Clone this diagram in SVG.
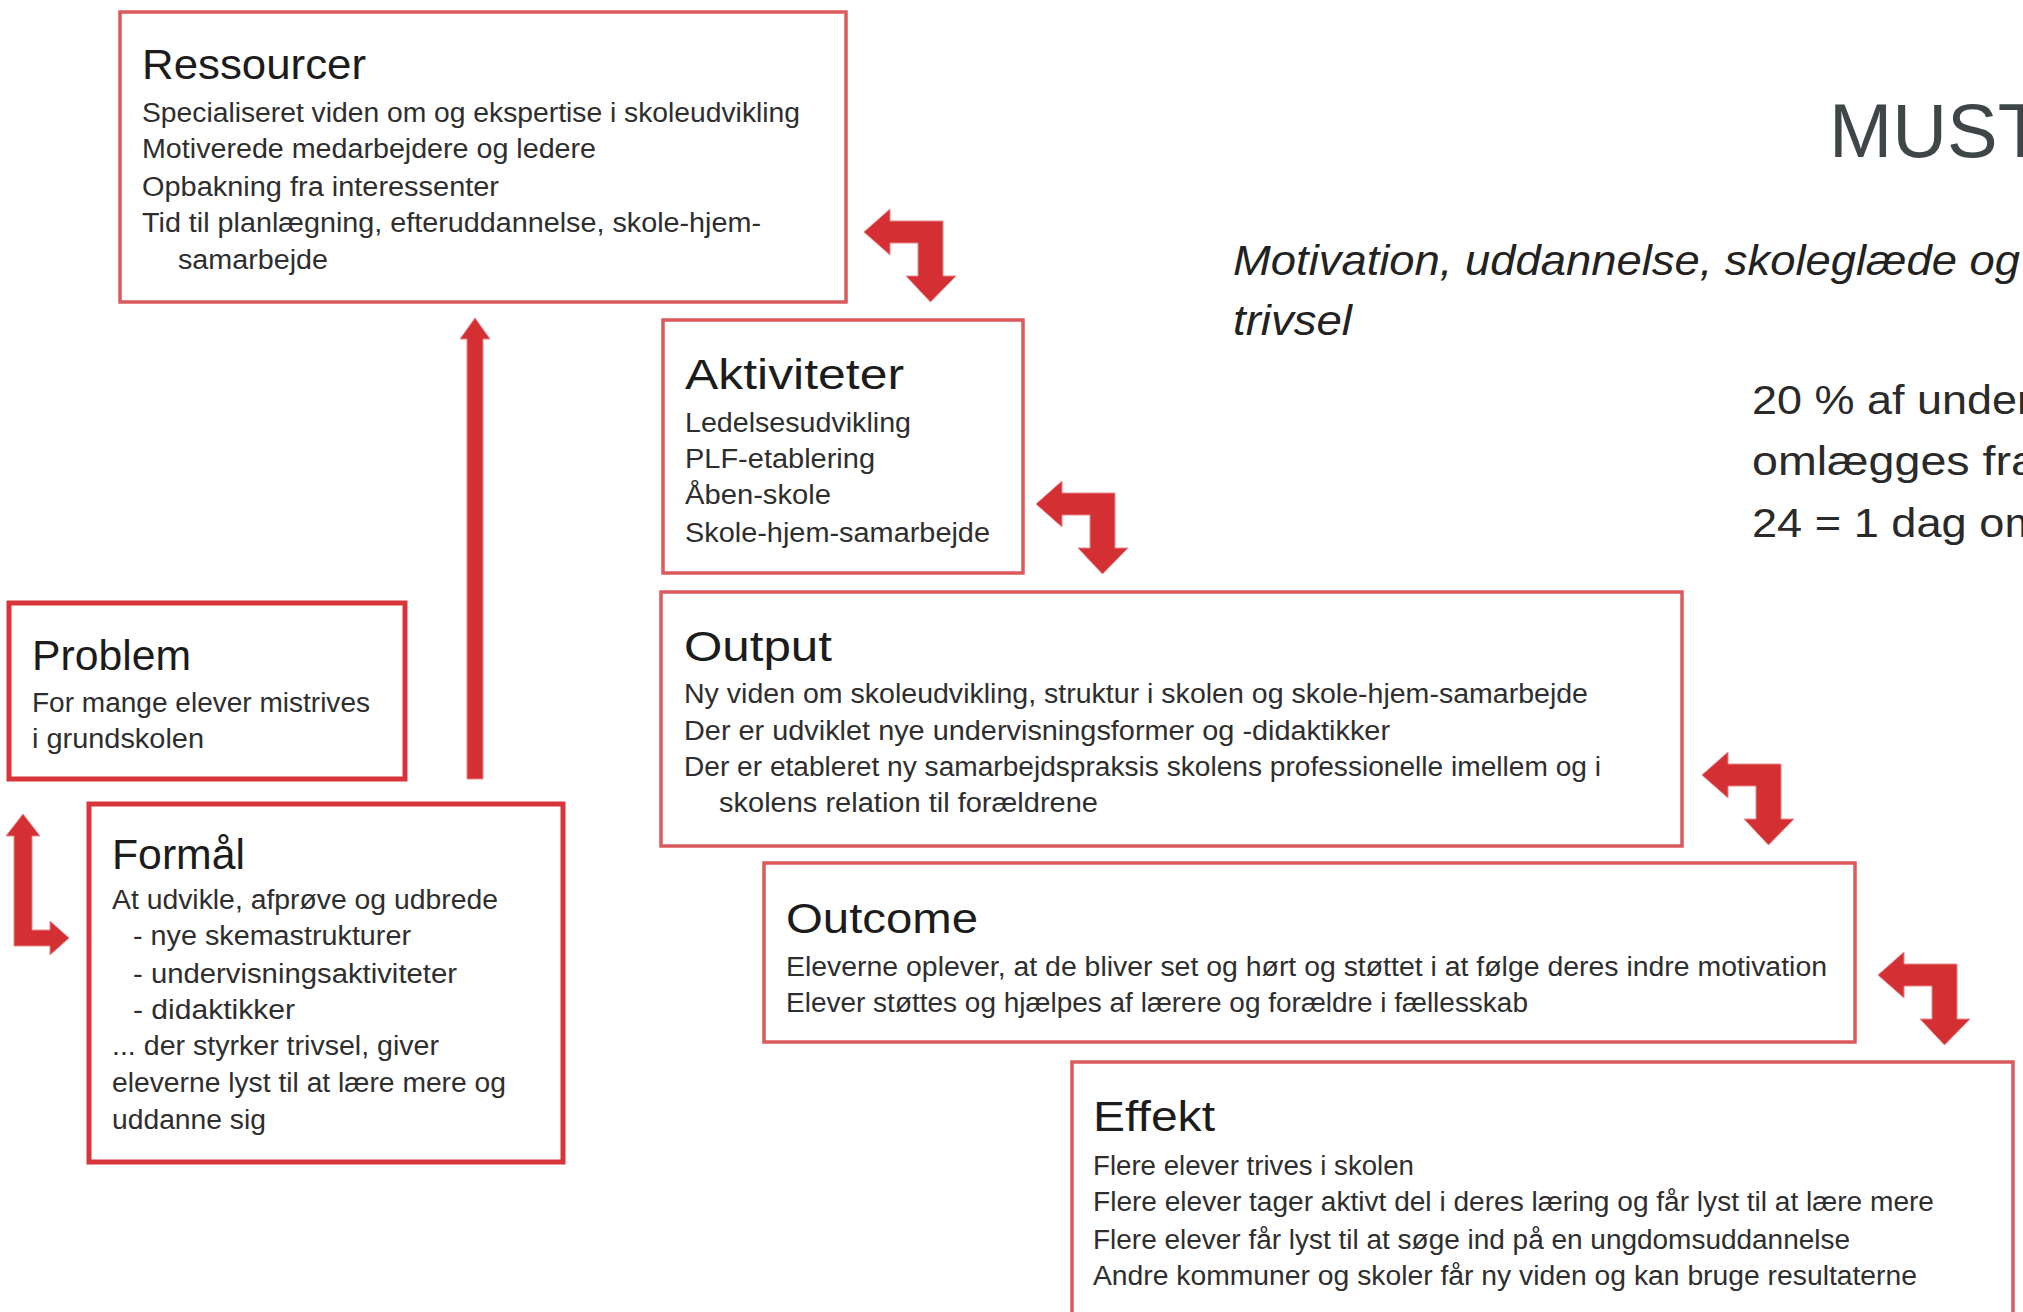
<svg xmlns="http://www.w3.org/2000/svg" width="2023" height="1312" viewBox="0 0 2023 1312">
<style>
.box{fill:#ffffff;stroke:#dc5a5e;stroke-width:3.5}
.boxb{fill:#ffffff;stroke:#d8353a;stroke-width:5}
.t{font-family:"Liberation Sans",Arial,sans-serif;font-size:42px;fill:#1c1c1c}
.b{font-family:"Liberation Sans",Arial,sans-serif;font-size:27px;fill:#2e2e2e}
.side{font-family:"Liberation Sans",Arial,sans-serif;font-size:40px;fill:#2a2a2a}
.it{font-family:"Liberation Sans",Arial,sans-serif;font-size:42px;font-style:italic;fill:#222222}
.big{font-family:"Liberation Sans",Arial,sans-serif;font-size:76px;fill:#3f4648}
.arr{fill:#d42f33;stroke:#e7888a;stroke-width:1}
</style>
<defs>
<path id="bent" d="M0 0 L0 55 L13 55 L-12.5 81 L-37 55 L-25 55 L-25 22 L-53 22 L-53 34 L-79 11 L-53 -12 L-53 0 Z"/>
</defs>
<rect width="2023" height="1312" fill="#ffffff"/>

<g id="title">
<text class="big" x="1829" y="157" textLength="215" lengthAdjust="spacingAndGlyphs">MUST</text>
<text class="it" x="1233" y="275" textLength="787" lengthAdjust="spacingAndGlyphs">Motivation, uddannelse, skoleglæde og</text>
<text class="it" x="1233" y="335" textLength="119" lengthAdjust="spacingAndGlyphs">trivsel</text>
</g>
<g id="note">
<text class="side" x="1752" y="414" textLength="280" lengthAdjust="spacingAndGlyphs">20 % af under</text>
<text class="side" x="1752" y="475" textLength="285" lengthAdjust="spacingAndGlyphs">omlægges fra</text>
<text class="side" x="1752" y="537" textLength="290" lengthAdjust="spacingAndGlyphs">24 = 1 dag om</text>
</g>

<g id="ressourcer">
<rect class="box" x="120" y="12" width="726" height="290"/>
<text class="t" x="142" y="79" textLength="224" lengthAdjust="spacingAndGlyphs">Ressourcer</text>
<text class="b" x="142" y="122" textLength="658" lengthAdjust="spacingAndGlyphs">Specialiseret viden om og ekspertise i skoleudvikling</text>
<text class="b" x="142" y="158" textLength="454" lengthAdjust="spacingAndGlyphs">Motiverede medarbejdere og ledere</text>
<text class="b" x="142" y="196" textLength="357" lengthAdjust="spacingAndGlyphs">Opbakning fra interessenter</text>
<text class="b" x="142" y="232" textLength="619" lengthAdjust="spacingAndGlyphs">Tid til planlægning, efteruddannelse, skole-hjem-</text>
<text class="b" x="178" y="269" textLength="150" lengthAdjust="spacingAndGlyphs">samarbejde</text>
</g>

<g id="aktiviteter">
<rect class="box" x="663" y="320" width="360" height="253"/>
<text class="t" x="685" y="389" textLength="219" lengthAdjust="spacingAndGlyphs">Aktiviteter</text>
<text class="b" x="685" y="432" textLength="226" lengthAdjust="spacingAndGlyphs">Ledelsesudvikling</text>
<text class="b" x="685" y="468" textLength="190" lengthAdjust="spacingAndGlyphs">PLF-etablering</text>
<text class="b" x="685" y="504" textLength="146" lengthAdjust="spacingAndGlyphs">Åben-skole</text>
<text class="b" x="685" y="542" textLength="305" lengthAdjust="spacingAndGlyphs">Skole-hjem-samarbejde</text>
</g>

<g id="output">
<rect class="box" x="661" y="592" width="1021" height="254"/>
<text class="t" x="684" y="661" textLength="148" lengthAdjust="spacingAndGlyphs">Output</text>
<text class="b" x="684" y="703" textLength="904" lengthAdjust="spacingAndGlyphs">Ny viden om skoleudvikling, struktur i skolen og skole-hjem-samarbejde</text>
<text class="b" x="684" y="740" textLength="706" lengthAdjust="spacingAndGlyphs">Der er udviklet nye undervisningsformer og -didaktikker</text>
<text class="b" x="684" y="776" textLength="917" lengthAdjust="spacingAndGlyphs">Der er etableret ny samarbejdspraksis skolens professionelle imellem og i</text>
<text class="b" x="719" y="812" textLength="379" lengthAdjust="spacingAndGlyphs">skolens relation til forældrene</text>
</g>

<g id="outcome">
<rect class="box" x="764" y="863" width="1091" height="179"/>
<text class="t" x="786" y="933" textLength="192" lengthAdjust="spacingAndGlyphs">Outcome</text>
<text class="b" x="786" y="976" textLength="1041" lengthAdjust="spacingAndGlyphs">Eleverne oplever, at de bliver set og hørt og støttet i at følge deres indre motivation</text>
<text class="b" x="786" y="1012" textLength="742" lengthAdjust="spacingAndGlyphs">Elever støttes og hjælpes af lærere og forældre i fællesskab</text>
</g>

<g id="effekt">
<rect class="box" x="1072" y="1062" width="941" height="270"/>
<text class="t" x="1093" y="1131" textLength="122" lengthAdjust="spacingAndGlyphs">Effekt</text>
<text class="b" x="1093" y="1175" textLength="321" lengthAdjust="spacingAndGlyphs">Flere elever trives i skolen</text>
<text class="b" x="1093" y="1211" textLength="841" lengthAdjust="spacingAndGlyphs">Flere elever tager aktivt del i deres læring og får lyst til at lære mere</text>
<text class="b" x="1093" y="1249" textLength="757" lengthAdjust="spacingAndGlyphs">Flere elever får lyst til at søge ind på en ungdomsuddannelse</text>
<text class="b" x="1093" y="1285" textLength="824" lengthAdjust="spacingAndGlyphs">Andre kommuner og skoler får ny viden og kan bruge resultaterne</text>
</g>

<g id="problem">
<rect class="boxb" x="9" y="603" width="396" height="176"/>
<text class="t" x="32" y="670" textLength="159" lengthAdjust="spacingAndGlyphs">Problem</text>
<text class="b" x="32" y="712" textLength="338" lengthAdjust="spacingAndGlyphs">For mange elever mistrives</text>
<text class="b" x="32" y="748" textLength="172" lengthAdjust="spacingAndGlyphs">i grundskolen</text>
</g>

<g id="formaal">
<rect class="boxb" x="89" y="804" width="474" height="358"/>
<text class="t" x="112" y="869" textLength="133" lengthAdjust="spacingAndGlyphs">Formål</text>
<text class="b" x="112" y="909" textLength="386" lengthAdjust="spacingAndGlyphs">At udvikle, afprøve og udbrede</text>
<text class="b" x="133" y="945" textLength="278" lengthAdjust="spacingAndGlyphs">- nye skemastrukturer</text>
<text class="b" x="133" y="983" textLength="324" lengthAdjust="spacingAndGlyphs">- undervisningsaktiviteter</text>
<text class="b" x="133" y="1019" textLength="162" lengthAdjust="spacingAndGlyphs">- didaktikker</text>
<text class="b" x="112" y="1055" textLength="327" lengthAdjust="spacingAndGlyphs">... der styrker trivsel, giver</text>
<text class="b" x="112" y="1092" textLength="394" lengthAdjust="spacingAndGlyphs">eleverne lyst til at lære mere og</text>
<text class="b" x="112" y="1129" textLength="154" lengthAdjust="spacingAndGlyphs">uddanne sig</text>
</g>

<g id="connectors">
<use href="#bent" class="arr" x="943" y="221"/>
<use href="#bent" class="arr" x="1115" y="493"/>
<use href="#bent" class="arr" x="1781" y="764"/>
<use href="#bent" class="arr" x="1957" y="964"/>
<path class="arr" d="M475 318 L490 339 L483 339 L483 779 L467 779 L467 339 L460 339 Z"/>
<path class="arr" d="M23 814 L40 836 L32 836 L32 930 L50 930 L50 921 L69 938 L50 955 L50 946 L14 946 L14 836 L6 836 Z"/>
</g>
</svg>
